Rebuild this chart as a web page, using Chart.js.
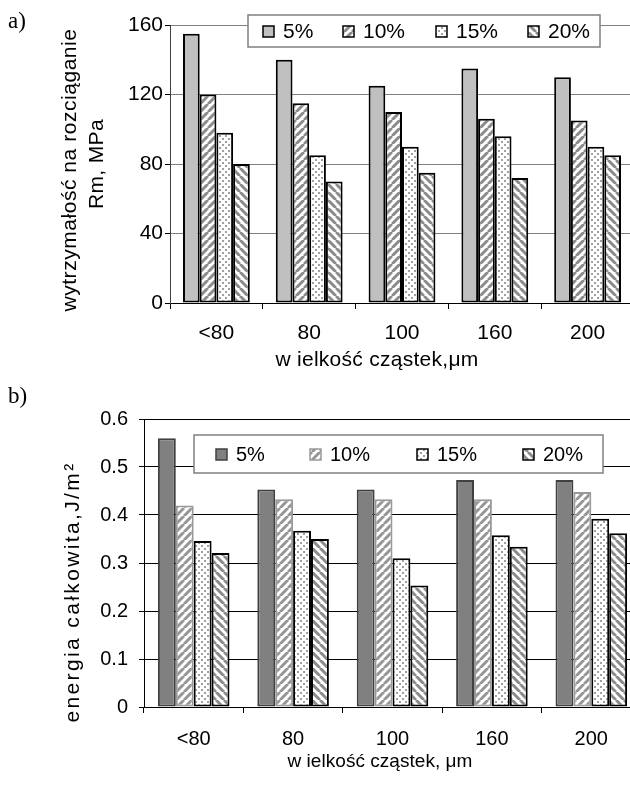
<!DOCTYPE html>
<html>
<head>
	<meta charset="utf-8">
	<title>Rm i energia całkowita a wielkość cząstek</title>
	<script src="https://cdn.jsdelivr.net/npm/chart.js@4.4.0/dist/chart.umd.min.js"></script>
	<style>
		html, body { margin: 0; padding: 0; overflow: hidden; background: #fff; }
		body { width: 630px; height: 792px; position: relative; }
		canvas { position: absolute; left: 0; }
	</style>
</head>
<body>
	<canvas id="chartA" width="640" height="375" style="top:0"></canvas>
	<canvas id="chartB" width="650" height="412" style="top:380px"></canvas>
<script>
	// particle size classes and filler content
	const categories = ['<80', '80', '100', '160', '200'];
	const shares = ['5%', '10%', '15%', '20%'];

	// a) tensile strength Rm, MPa
	const rm5 = [155, 140, 125, 135, 130];
	const rm10 = [120, 115, 110, 106, 105];
	const rm15 = [98, 85, 90, 96, 90];
	const rm20 = [80, 70, 75, 72, 85];
	const rmTicks = [0, 40, 80, 120, 160];

	// b) total energy, J/m2
	const en5 = [0.56, 0.453, 0.453, 0.473, 0.473];
	const en10 = [0.42, 0.433, 0.433, 0.433, 0.448];
	const en15 = [0.346, 0.367, 0.31, 0.358, 0.392];
	const en20 = [0.321, 0.35, 0.253, 0.334, 0.362];
	const enTicks = [0, 0.1, 0.2, 0.3, 0.4, 0.5, 0.6];

	const SANS = '"Liberation Sans", Arial, sans-serif';
	const SERIF = '"Liberation Serif", "Times New Roman", serif';

	function makePattern(kind, fg) {
		const c = document.createElement('canvas');
		const s = kind === 'dots' ? 6 : 8;
		c.width = s; c.height = s;
		const g = c.getContext('2d');
		g.fillStyle = '#fff';
		g.fillRect(0, 0, s, s);
		if (kind === 'dots') {
			g.fillStyle = fg;
			g.fillRect(0, 0, 2, 2);
			g.fillRect(3, 3, 2, 2);
		} else {
			g.strokeStyle = fg;
			g.lineWidth = 3;
			g.beginPath();
			for (const k of [-s, 0, s]) {
				if (kind === 'fwd') { g.moveTo(k, s); g.lineTo(k + s, 0); }
				else { g.moveTo(k, 0); g.lineTo(k + s, s); }
			}
			g.stroke();
		}
		return g.createPattern(c, 'repeat');
	}

	// boxed legend like the original spreadsheet one
	const boxLegend = {
		id: 'boxLegend',
		afterDraw(chart, args, o) {
			const ctx = chart.ctx;
			ctx.save();
			ctx.fillStyle = '#fff';
			ctx.fillRect(o.x, o.y, o.w, o.h);
			ctx.strokeStyle = o.border;
			ctx.lineWidth = 1.5;
			ctx.strokeRect(o.x, o.y, o.w, o.h);
			ctx.font = o.size + 'px ' + SANS;
			ctx.textBaseline = 'middle';
			const cy = o.y + o.h / 2;
			chart.data.datasets.forEach((ds, i) => {
				const sx = o.items[i];
				ctx.fillStyle = ds.backgroundColor;
				ctx.fillRect(sx, cy - 5, 11, 11);
				ctx.strokeStyle = ds.borderColor;
				ctx.lineWidth = 1.5;
				ctx.strokeRect(sx, cy - 5, 11, 11);
				ctx.fillStyle = '#000';
				ctx.fillText(ds.label, sx + 20, cy + 1);
			});
			ctx.restore();
		}
	};

	// panel letters and axis titles
	const freeText = {
		id: 'freeText',
		afterDraw(chart, args, o) {
			const ctx = chart.ctx;
			for (const t of o.items) {
				ctx.save();
				ctx.font = t.font;
				ctx.fillStyle = '#000';
				ctx.textAlign = t.align || 'center';
				ctx.textBaseline = t.baseline || 'middle';
				if (t.width) {
					const w = ctx.measureText(t.text).width;
					ctx.letterSpacing = Math.max(0, (t.width - w) / t.text.length).toFixed(2) + 'px';
				}
				ctx.translate(t.x, t.y);
				ctx.rotate(t.rot || 0);
				ctx.fillText(t.text, 0, 0);
				ctx.restore();
			}
		}
	};

	function barSet(label, data, fill, border) {
		return { label: label, data: data, backgroundColor: fill, borderColor: border };
	}

	function options(cfg) {
		return {
			responsive: false,
			animation: false,
			layout: { padding: { top: cfg.top, right: cfg.right, left: 0, bottom: 0 } },
			datasets: { bar: { barPercentage: 1, categoryPercentage: 0.72, borderWidth: 2, borderSkipped: false } },
			plugins: {
				legend: { display: false },
				tooltip: { enabled: false },
				boxLegend: cfg.legend,
				freeText: { items: cfg.texts }
			},
			scales: {
				x: {
					afterFit: s => { s.height = cfg.xHeight; },
					grid: { drawOnChartArea: false, tickLength: 6, tickColor: '#000', lineWidth: 1 },
					border: { color: '#000', width: 1 },
					ticks: { color: '#000', font: { family: SANS, size: cfg.xFont }, padding: cfg.xPad }
				},
				y: {
					min: 0,
					max: cfg.max,
					afterFit: s => { s.width = cfg.left; },
					afterBuildTicks: s => { s.ticks = cfg.ticks.map(v => ({ value: v })); },
					grid: { color: cfg.gridColor, tickColor: '#000', tickLength: 5, lineWidth: 1 },
					border: { color: cfg.axisColor, width: 1 },
					ticks: { color: '#000', font: { family: SANS, size: cfg.yFont }, padding: cfg.yPad }
				}
			}
		};
	}

	new Chart(document.getElementById('chartA'), {
		type: 'bar',
		data: {
			labels: categories,
			datasets: [
				barSet(shares[0], rm5, '#c0c0c0', '#000'),
				barSet(shares[1], rm10, makePattern('fwd', '#8c8c8c'), '#000'),
				barSet(shares[2], rm15, makePattern('dots', '#a0a0a0'), '#000'),
				barSet(shares[3], rm20, makePattern('back', '#8c8c8c'), '#000')
			]
		},
		options: options({
			top: 25, right: 6, left: 170, xHeight: 72, max: 160, ticks: rmTicks,
			xFont: 21, yFont: 21, xPad: 12, yPad: 2,
			gridColor: '#808080', axisColor: '#404040',
			legend: { x: 248, y: 15, w: 352, h: 32, border: '#808080', size: 21, items: [263, 343, 436, 528] },
			texts: [
				{ text: 'a)', x: 8, y: 28, font: '23px ' + SERIF, align: 'left', baseline: 'alphabetic' },
				{ text: 'wytrzymałość na rozciąganie', x: 70, y: 170, rot: -Math.PI / 2, font: '21px ' + SANS, width: 283 },
				{ text: 'Rm, MPa', x: 97, y: 164, rot: -Math.PI / 2, font: '21px ' + SANS, width: 90 },
				{ text: 'w ielkość cząstek,μm', x: 377, y: 360, font: '21px ' + SANS, width: 203 }
			]
		}),
		plugins: [boxLegend, freeText]
	});

	new Chart(document.getElementById('chartB'), {
		type: 'bar',
		data: {
			labels: categories,
			datasets: [
				barSet(shares[0], en5, '#808080', '#404040'),
				barSet(shares[1], en10, makePattern('fwd', '#969696'), '#999999'),
				barSet(shares[2], en15, makePattern('dots', '#a0a0a0'), '#000'),
				barSet(shares[3], en20, makePattern('back', '#8c8c8c'), '#000')
			]
		},
		options: options({
			top: 39, right: 9, left: 144, xHeight: 85, max: 0.6, ticks: enTicks,
			xFont: 20, yFont: 20, xPad: 14, yPad: 11,
			gridColor: '#000', axisColor: '#000',
			legend: { x: 194, y: 55, w: 409, h: 38, border: '#808080', size: 20, items: [216, 310, 417, 523] },
			texts: [
				{ text: 'b)', x: 8, y: 23, font: '23px ' + SERIF, align: 'left', baseline: 'alphabetic' },
				{ text: 'energia całkowita,J/m²', x: 73, y: 212, rot: -Math.PI / 2, font: '21px ' + SANS, width: 261 },
				{ text: 'w ielkość cząstek, μm', x: 380, y: 382, font: '19px ' + SANS, width: 185 }
			]
		}),
		plugins: [boxLegend, freeText]
	});
</script>
</body>
</html>
